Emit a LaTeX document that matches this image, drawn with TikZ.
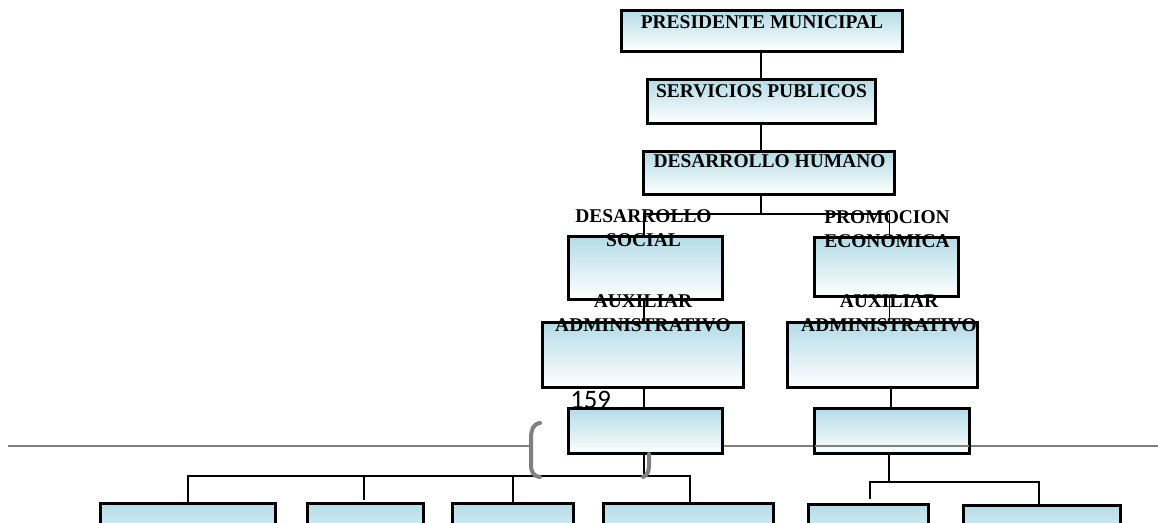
\documentclass[tikz,border=0pt]{standalone}
\usepackage{fontspec}
\setmainfont{Liberation Serif}
\newfontfamily\numfont{Carlito}
\definecolor{boxblue}{RGB}{180,220,231}
\definecolor{rulegray}{RGB}{128,128,128}
\begin{document}
\begin{tikzpicture}[x=0.75pt,y=-0.75pt,
  orgbox/.style={draw=black,line width=1.5pt,top color=boxblue,bottom color=white,
    minimum width=#1,inner sep=0pt},
  conn/.style={draw=black,line width=1.4pt},
  thin conn/.style={draw=black,line width=1.2pt},
  lbl/.style={font=\fontsize{14.6}{18}\selectfont\bfseries,inner sep=0pt,anchor=base,align=center},
  grayline/.style={draw=rulegray,line width=2pt},
  bracket/.style={draw=rulegray,line width=3pt,line cap=round}]
\useasboundingbox (0,0) rectangle (1158,522);
\clip (0,0) rectangle (1158,522);
% boxes: (center) width height
\path
  (762,31)    node[orgbox=210pt,minimum height=30pt] (P) {}
  (761.5,101.5) node[orgbox=170.25pt,minimum height=32.25pt] (S) {}
  (769,173)   node[orgbox=187.5pt,minimum height=31.5pt] (DH) {}
  (645.5,268) node[orgbox=114.75pt,minimum height=46.5pt] (DS) {}
  (886.5,267) node[orgbox=107.25pt,minimum height=43.5pt] (PE) {}
  (643,355)   node[orgbox=150pt,minimum height=48pt] (AA1) {}
  (882.5,355) node[orgbox=141.75pt,minimum height=48pt] (AA2) {}
  (645.5,431) node[orgbox=114.75pt,minimum height=33pt] (B1) {}
  (892,431)   node[orgbox=115.5pt,minimum height=33pt] (B2) {}
  (188,532)   node[orgbox=130.5pt,minimum height=42pt] (C1) {}
  (365.5,532) node[orgbox=86.25pt,minimum height=42pt] (C2) {}
  (513,532)   node[orgbox=90pt,minimum height=42pt] (C3) {}
  (688.5,532) node[orgbox=126.75pt,minimum height=42pt] (C4) {}
  (868.5,533) node[orgbox=89.25pt,minimum height=42pt] (C5) {}
  (1042,534)  node[orgbox=117pt,minimum height=42pt] (C6) {};
% connector helper coordinates
\coordinate (xm) at (761,0);
\coordinate (xa) at (644,0);
\coordinate (xb) at (889.5,0);
\coordinate (xc) at (891,0);
\coordinate (j1) at (761,214);
\coordinate (j2) at (644,476);
\coordinate (j3) at (889,482);
\coordinate (k1) at (188,0);
\coordinate (k2) at (364,500);
\coordinate (k3) at (513,0);
\coordinate (k4) at (690,0);
\coordinate (k5) at (870,499);
\coordinate (k6) at (1039,0);
% gray rule
\draw[grayline] (8,446) -- (530,446);
\draw[grayline] (B1.east |- 0,446) -- (1158,446);
% connectors
\draw[conn] (P.south -| xm) -- (S.north -| xm);
\draw[conn] (S.south -| xm) -- (DH.north -| xm);
\draw[conn] (DH.south -| xm) -- (j1);
\draw[conn] (DS.north -| xa) |- (j1) -| (PE.north -| xb);
\draw[conn] (DS.south -| xa) -- (AA1.north -| xa);
\draw[conn] (PE.south -| xb) -- (AA2.north -| xb);
\draw[conn] (AA1.south -| xa) -- (B1.north -| xa);
\draw[conn] (AA2.south -| xc) -- (B2.north -| xc);
\draw[thin conn] (B1.south -| xa) -- (j2);
\draw[thin conn] (C1.north -| k1) |- (j2) -| (C4.north -| k4);
\draw[thin conn] (k2) -- (k2 |- j2);
\draw[thin conn] (C3.north -| k3) -- (k3 |- j2);
\draw[thin conn] (B2.south -| j3) -- (j3);
\draw[thin conn] (k5) |- (j3) -| (C6.north -| k6);
% redraw box outlines on top of connectors
\foreach \n in {P,S,DH,DS,PE,AA1,AA2,B1,B2,C1,C2,C3,C4,C5,C6}{
  \draw[line width=1.5pt] (\n.north west) rectangle (\n.south east);}
% brackets
\draw[bracket] (540,423) .. controls (533,424) and (531,430) .. (531,438) -- (531,464)
  .. controls (531,472) and (533,476) .. (540,477);
\draw[bracket] (649,454) -- (649,466) .. controls (649,472) and (647,475) .. (643,477);
% labels (base anchor = baseline of last line)
\node[lbl] (tP) at (762,28) {PRESIDENTE MUNICIPAL};
\node[lbl] (tS) at (761.5,97) {SERVICIOS PUBLICOS};
\node[lbl] (tDH) at (769.5,167) {DESARROLLO HUMANO};
\node[lbl] (tDS) at (643.5,246) {DESARROLLO\\SOCIAL};
\node[lbl] (tPE) at (887,247) {PROMOCION\\ECONOMICA};
\node[lbl] (tA1) at (643,331) {AUXILIAR\\ADMINISTRATIVO};
\node[lbl] (tA2) at (889,331) {AUXILIAR\\ADMINISTRATIVO};
\node[font=\numfont\fontsize{20}{24}\selectfont,inner sep=0pt,anchor=base west] (n159) at (570,408) {159};
\end{tikzpicture}
\end{document}
